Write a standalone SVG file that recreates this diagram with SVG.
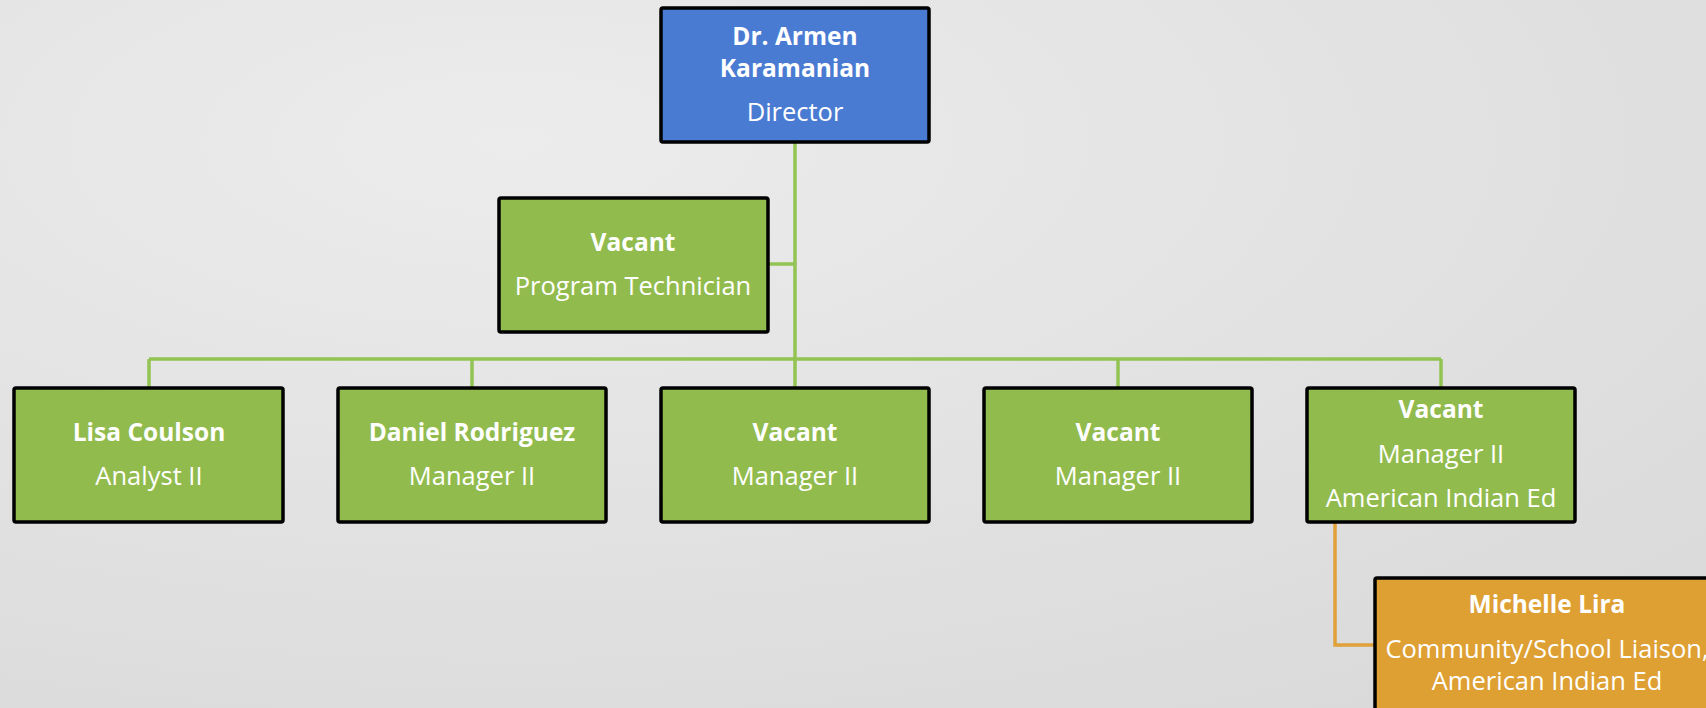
<svg xmlns="http://www.w3.org/2000/svg" width="1706" height="708" viewBox="0 0 1706 708">
<defs>
<radialGradient id="bg" cx="0.3" cy="0.2" r="1">
<stop offset="0" stop-color="#ececec"/>
<stop offset="1" stop-color="#d9d9d9"/>
</radialGradient>
</defs>
<style>
.box{stroke:#000;stroke-width:3.5}
.blue{fill:#4a7bd2}
.green{fill:#92bb4e}
.orange{fill:#de9f33}
text{font-family:"Open Sans","Liberation Sans",sans-serif;font-size:25.5px;fill:#fff;text-anchor:middle}
.b{font-weight:bold;font-size:24.5px}
.gl{stroke:#92c353;stroke-width:3.5;fill:none}
.ol{stroke:#e0a03a;stroke-width:3.5;fill:none}
</style>
<rect width="1706" height="708" fill="url(#bg)"/>
<g id="connectors">
<path class="gl" d="M795 141V359"/>
<path class="gl" d="M768 264H795"/>
<path class="gl" d="M149 359H1441"/>
<path class="gl" d="M149 359V388M472 359V388M795 359V388M1118 359V388M1441 359V388"/>
<path class="ol" d="M1335 522V645H1375"/>
</g>
<g id="director">
<rect class="box blue" x="661" y="8" width="268" height="134" rx="2"/>
<text class="b" x="795" y="45">Dr. Armen</text>
<text class="b" x="795" y="77">Karamanian</text>
<text x="795" y="121">Director</text>
</g>
<g id="program-technician">
<rect class="box green" x="499" y="198" width="269" height="134" rx="2"/>
<text class="b" x="633" y="251">Vacant</text>
<text x="633" y="295">Program Technician</text>
</g>
<g id="lisa-coulson">
<rect class="box green" x="14" y="388" width="269" height="134" rx="2"/>
<text class="b" x="149" y="441">Lisa Coulson</text>
<text x="149" y="485">Analyst II</text>
</g>
<g id="daniel-rodriguez">
<rect class="box green" x="338" y="388" width="268" height="134" rx="2"/>
<text class="b" x="472" y="441">Daniel Rodriguez</text>
<text x="472" y="485">Manager II</text>
</g>
<g id="vacant-manager-1">
<rect class="box green" x="661" y="388" width="268" height="134" rx="2"/>
<text class="b" x="795" y="441">Vacant</text>
<text x="795" y="485">Manager II</text>
</g>
<g id="vacant-manager-2">
<rect class="box green" x="984" y="388" width="268" height="134" rx="2"/>
<text class="b" x="1118" y="441">Vacant</text>
<text x="1118" y="485">Manager II</text>
</g>
<g id="vacant-manager-aie">
<rect class="box green" x="1307" y="388" width="268" height="134" rx="2"/>
<text class="b" x="1441" y="418">Vacant</text>
<text x="1441" y="463">Manager II</text>
<text x="1441" y="507">American Indian Ed</text>
</g>
<g id="michelle-lira">
<rect class="box orange" x="1375" y="578" width="345" height="150" rx="2"/>
<text class="b" x="1547" y="613">Michelle Lira</text>
<text x="1547" y="658">Community/School Liaison,</text>
<text x="1547" y="690">American Indian Ed</text>
</g>
</svg>
